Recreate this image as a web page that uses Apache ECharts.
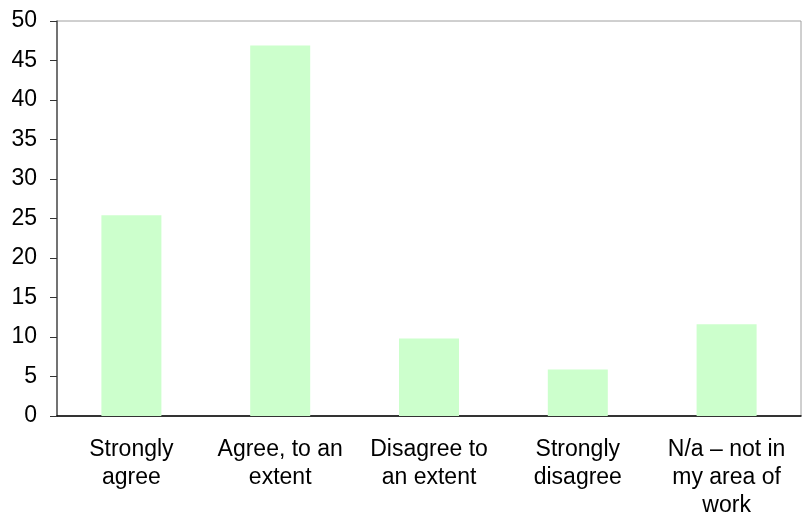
<!DOCTYPE html>
<html>
<head>
<meta charset="utf-8">
<script src="https://cdn.jsdelivr.net/npm/echarts@6/dist/echarts.min.js"></script>
<style>
  html, body { margin: 0; padding: 0; background: #fff; }
  #chart { width: 802px; height: 520px; }
</style>
</head>
<body>
<div id="chart"></div>
<script>
// categories (line breaks as in the picture)
const categories = [
  "Strongly\nagree",
  "Agree, to an\nextent",
  "Disagree to\nan extent",
  "Strongly\ndisagree",
  "N/a \u2013 not in\nmy area of\nwork"
];
const values = [25.4, 46.9, 9.8, 5.9, 11.6];

const chart = echarts.init(document.getElementById("chart"), null, { renderer: "canvas" });

chart.setOption({
  animation: false,
  textStyle: { fontFamily: "Liberation Sans, Arial, sans-serif" },
  grid: {
    left: 57, right: 1, top: 21, bottom: 100,
    show: true, borderColor: "#a0a0a0", borderWidth: 1
  },
  xAxis: {
    type: "category",
    data: categories,
    axisLine: { lineStyle: { color: "#000", width: 1.5 } },
    axisTick: { length: 7, lineStyle: { color: "#808080", width: 1.5 } },
    axisLabel: {
      color: "#000", fontSize: 23, lineHeight: 28, margin: 20, interval: 0
    }
  },
  yAxis: {
    type: "value",
    min: 0, max: 50, interval: 5,
    axisLine: { show: true, lineStyle: { color: "#555", width: 1.5 } },
    axisTick: { show: true, length: 7, lineStyle: { color: "#333" } },
    axisLabel: { color: "#000", fontSize: 23, margin: 20 },
    splitLine: { show: false }
  },
  series: [{
    type: "bar",
    data: values,
    barWidth: 60,
    itemStyle: { color: "#ccffcc" }
  }]
});
</script>
</body>
</html>
